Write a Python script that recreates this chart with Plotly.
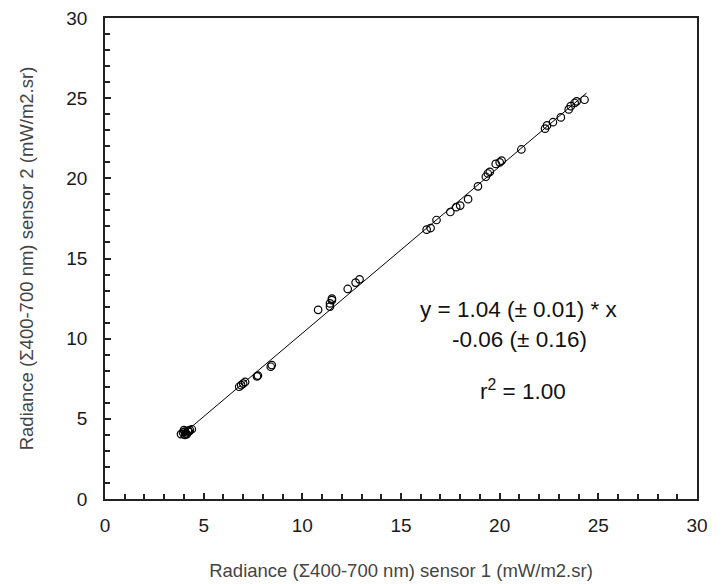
import plotly.graph_objects as go

sensor1 = [3.85, 3.95, 4.0, 4.05, 4.1, 4.15, 4.2, 4.3, 4.4, 4.05, 4.25,
           6.8, 6.9, 7.0, 7.1, 7.7, 7.75, 8.4, 8.45,
           10.8, 11.4, 11.4, 11.5, 11.5, 12.3, 12.7, 12.9,
           16.3, 16.5, 16.8, 17.5, 17.8, 18.0, 18.4, 18.9,
           19.3, 19.4, 19.5, 19.8, 20.0, 20.1, 21.1,
           22.3, 22.4, 22.7, 23.1, 23.5, 23.6, 23.8, 23.9, 24.3]
sensor2 = [4.05, 4.15, 4.3, 4.2, 4.1, 4.05, 4.25, 4.3, 4.35, 4.0, 4.2,
           7.0, 7.1, 7.2, 7.3, 7.65, 7.7, 8.25, 8.35,
           11.8, 12.0, 12.2, 12.4, 12.5, 13.1, 13.5, 13.7,
           16.8, 16.9, 17.4, 17.9, 18.2, 18.3, 18.7, 19.5,
           20.1, 20.3, 20.4, 20.9, 21.0, 21.1, 21.8,
           23.1, 23.3, 23.5, 23.8, 24.3, 24.5, 24.7, 24.8, 24.9]

slope = 1.04
intercept = -0.06
fit_x = [3.8, 24.4]
fit_y = [slope * v + intercept for v in fit_x]

axis_ticks = [0, 5, 10, 15, 20, 25, 30]

fig = go.Figure()
fig.add_trace(go.Scatter(x=fit_x, y=fit_y, mode="lines",
                         line=dict(color="black", width=1), showlegend=False))
fig.add_trace(go.Scatter(x=sensor1, y=sensor2, mode="markers",
                         marker=dict(symbol="circle-open", size=7.5, color="black",
                                     line=dict(width=1.2, color="black")),
                         showlegend=False))

font_fam = "Liberation Sans, Arial, sans-serif"
axis_common = dict(range=[0, 30], tickvals=axis_ticks, showgrid=False, zeroline=False,
                   showline=True, linecolor="#222", linewidth=1.5, mirror=True,
                   ticks="inside", ticklen=6, tickwidth=1.5, tickcolor="#222",
                   minor=dict(dtick=1, ticks="inside", ticklen=5, tickwidth=1.5, tickcolor="#222"),
                   tickfont=dict(family=font_fam, size=19, color="#1a1a1a"),
                   automargin=False)

fig.update_xaxes(**axis_common, ticklabelstandoff=8,
                 title=dict(text="Radiance (Σ400-700 nm) sensor 1 (mW/m2.sr)",
                            font=dict(family=font_fam, size=18.5, color="#444"), standoff=30))
fig.update_yaxes(**axis_common, ticklabelstandoff=12,
                 title=dict(text="Radiance (Σ400-700 nm) sensor 2 (mW/m2.sr)",
                            font=dict(family=font_fam, size=18.5, color="#444"), standoff=28))

ann_font = dict(family=font_fam, size=22.5, color="#111")
fig.add_annotation(x=20.98, y=11.8, xref="x", yref="y", showarrow=False,
                   text="y = 1.04 (± 0.01) * x", font=ann_font)
fig.add_annotation(x=20.98, y=9.94, xref="x", yref="y", showarrow=False,
                   text="-0.06 (± 0.16)", font=ann_font)
fig.add_annotation(x=21.2, y=6.77, xref="x", yref="y", showarrow=False,
                   text="r<sup>2</sup> = 1.00", font=ann_font)

fig.update_layout(width=723, height=584, plot_bgcolor="white", paper_bgcolor="white",
                  margin=dict(l=105, r=26, t=18, b=85))
fig.write_html("out.html")
